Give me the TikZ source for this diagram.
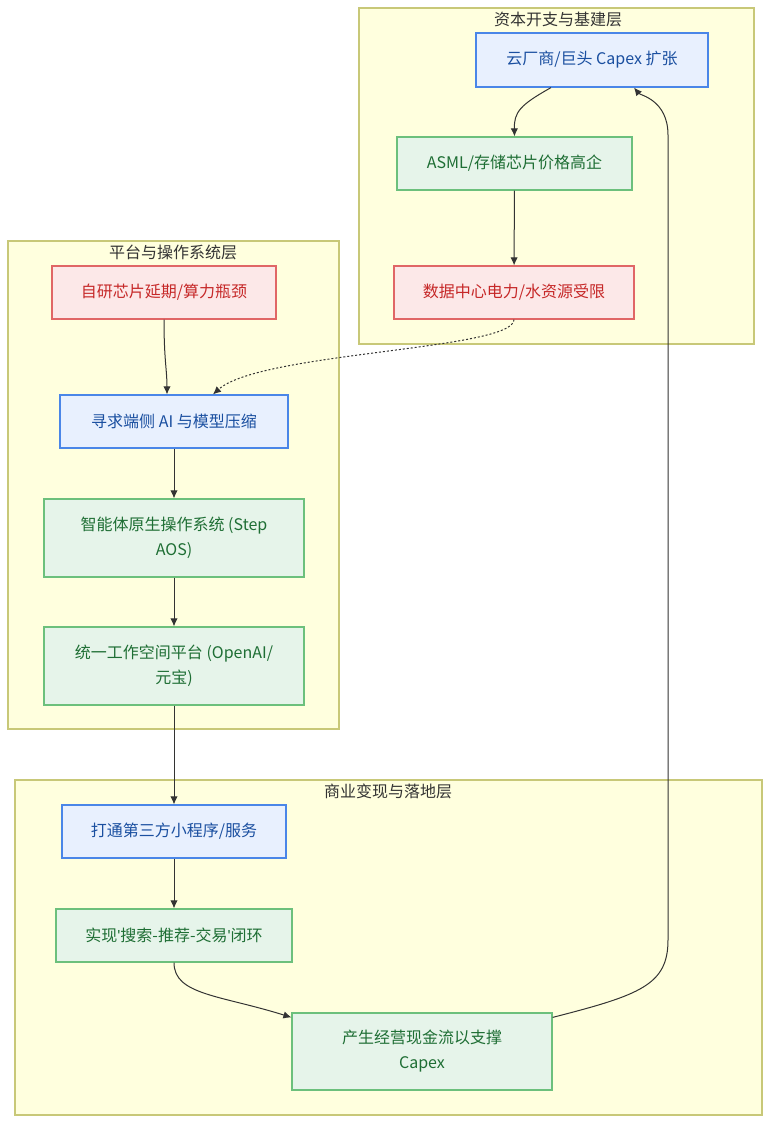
\documentclass[tikz,border=0pt]{standalone}
\usepackage{fontspec}
\setmainfont{Noto Sans CJK SC}
\newfontfamily\latinfont{Liberation Sans}
\newcommand{\sq}{{\latinfont\char"27}}
\usetikzlibrary{calc, positioning, arrows.meta}

\definecolor{layerfill}{HTML}{FFFFDE}
\definecolor{layerdraw}{HTML}{C8C878}
\definecolor{bluefill}{HTML}{E8F0FE}
\definecolor{bluedraw}{HTML}{4A86E8}
\definecolor{bluetext}{HTML}{1A4FA0}
\definecolor{greenfill}{HTML}{E6F4EA}
\definecolor{greendraw}{HTML}{6CC07C}
\definecolor{greentext}{HTML}{1E6E34}
\definecolor{redfill}{HTML}{FCE8E8}
\definecolor{reddraw}{HTML}{E06666}
\definecolor{redtext}{HTML}{C62828}
\definecolor{linkcol}{HTML}{333333}

\begin{document}
\begin{tikzpicture}[>={Latex[length=6pt,width=5.5pt]}, x=0.75pt, y=-0.75pt,
  layer/.style={draw=layerdraw, fill=layerfill, line width=0.9pt},
  layertitle/.style={text=linkcol, font=\fontsize{12}{14}\selectfont},
  box/.style={draw, line width=0.9pt, align=center, inner sep=0pt,
    font=\fontsize{12}{18.75}\selectfont},
  bluebox/.style={box, fill=bluefill, draw=bluedraw, text=bluetext},
  greenbox/.style={box, fill=greenfill, draw=greendraw, text=greentext},
  redbox/.style={box, fill=redfill, draw=reddraw, text=redtext},
  link/.style={->, draw=linkcol, line width=0.75pt}]
\useasboundingbox (0,0) rectangle (770,1124);

% layers
\draw[layer] (359,8) rectangle (754,344);
\node[layertitle] (capexlayer) at (558,19) {资本开支与基建层};
\draw[layer] (8,241) rectangle (339,729);
\node[layertitle] (oslayer) at (173,252) {平台与操作系统层};
\draw[layer] (15,780) rectangle (762,1115);
\node[layertitle] (bizlayer) at (388,791) {商业变现与落地层};

% nodes
\node[bluebox, minimum width=174pt, minimum height=40.5pt] (capex) at (592,60) {云厂商/巨头 Capex 扩张};
\node[greenbox, minimum width=176.25pt, minimum height=39.75pt] (asml) at (514.5,163.5) {ASML/存储芯片价格高企};
\node[redbox, minimum width=180pt, minimum height=39.75pt] (power) at (514,292.5) {数据中心电力/水资源受限};
\node[redbox, minimum width=168pt, minimum height=39.75pt] (chip) at (164,292.5) {自研芯片延期/算力瓶颈};
\node[bluebox, minimum width=171pt, minimum height=39.75pt] (edge) at (174,421.5) {寻求端侧 AI 与模型压缩};
\node[greenbox, minimum width=195pt, minimum height=58.5pt] (aos) at (174,538) {智能体原生操作系统 (Step\\AOS)};
\node[greenbox, minimum width=195pt, minimum height=58.5pt] (work) at (174,666) {统一工作空间平台 (OpenAI/\\元宝)};
\node[bluebox, minimum width=168pt, minimum height=39.75pt] (mini) at (174,831.5) {打通第三方小程序/服务};
\node[greenbox, minimum width=177pt, minimum height=39.75pt] (loop) at (174,935.5) {实现\sq 搜索-推荐-交易\sq 闭环};
\node[greenbox, minimum width=195pt, minimum height=57.75pt] (cash) at (422,1051.5) {产生经营现金流以支撑\\Capex};

% links
\draw[link] ($(capex.south)+(-41,0)$) .. controls (520,105) and (514,112) .. (asml.north);
\draw[link] (asml) -- (power);
\draw[link] ($(chip.south)$) .. controls (164,360) and (167,370) .. ($(edge.north)+(-7,0)$);
\draw[link, dash pattern=on 1.5pt off 1.5pt] (power.south) .. controls (514,350) and (260,352) .. ($(edge.north)+(39,0)$);
\draw[link] (edge) -- (aos);
\draw[link] (aos) -- (work);
\draw[link] (work) -- (mini);
\draw[link] (mini) -- (loop);
\draw[link] (loop.south) .. controls (174,995) and (220,995) .. ($(cash.north west)+(0,5)$);
\draw[link] ($(cash.north east)+(0,5)$) .. controls (640,995) and (668,985) .. (668,940)
  -- (668,135) .. controls (668,100) and (640,95) .. ($(capex.south)+(42,0)$);
\end{tikzpicture}
\end{document}
